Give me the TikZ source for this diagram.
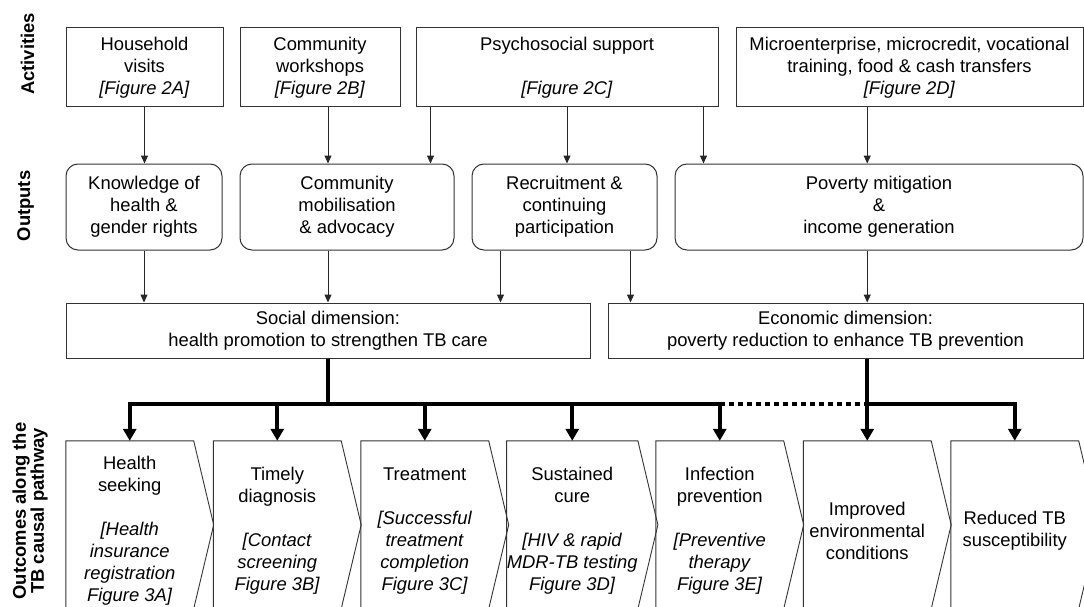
\documentclass[tikz,border=0pt]{standalone}
\usepackage{fontspec}
\setmainfont{Liberation Sans}
\usetikzlibrary{arrows.meta, calc, positioning}

\begin{document}
\begin{tikzpicture}[
    x=1pt, y=-1pt,
    every node/.style={font=\fontsize{18.4}{22}\selectfont, align=center, inner sep=0pt},
    actbox/.style={draw=black!80, line width=1pt, minimum height=79pt},
    outbox/.style={draw=black!80, line width=1pt, rounded corners=12pt, minimum height=86pt},
    dimbox/.style={draw=black!80, line width=1pt, minimum height=55pt},
    outcome/.style={minimum width=127.5pt, minimum height=180pt},
    chevron/.style={draw=black!80, line width=0.9pt},
    rowlabel/.style={font=\bfseries\fontsize{18.4}{18}\selectfont, rotate=90},
    arr/.style={draw=black!85, line width=1pt, -{Triangle[width=7pt,length=8pt]}},
    bigarr/.style={line width=4pt, -{Triangle[width=13pt,length=12pt]}},
    bigdots/.style={line width=4pt, dash pattern=on 5pt off 4pt}
]

    % moldura da figura
    \useasboundingbox (0,0) rectangle (1084,607);
    \clip (0,0) rectangle (1084,607);

    % 1. Rótulos das linhas
    \node[rowlabel] (lblact) at (27.5,54) {Activities};
    \node[rowlabel] (lblout) at (25.5,206) {Outputs};
    \node[rowlabel] (lblres) at (30,511) {Outcomes along the\\TB causal pathway};

    % 2. Atividades
    \node[actbox, minimum width=157pt] (act1) at (144.5,67.5) {Household\\visits\\\textit{[Figure 2A]}};
    \node[actbox, minimum width=160pt] (act2) at (320,67.5) {Community\\workshops\\\textit{[Figure 2B]}};
    \node[actbox, minimum width=302pt] (psych) at (567,67.5) {Psychosocial support\\[22pt]\textit{[Figure 2C]}};
    \node[actbox, minimum width=347pt] (act4) at (909.5,67.5) {Microenterprise, microcredit, vocational\\training, food \& cash transfers\\\textit{[Figure 2D]}};

    % 3. Produtos
    \node[outbox, minimum width=156pt] (out1) at (144,207) {Knowledge of\\health \&\\gender rights};
    \node[outbox, minimum width=214pt] (out2) at (347,207) {Community\\mobilisation\\\& advocacy};
    \node[outbox, minimum width=185pt] (out3) at (564.5,207) {Recruitment \&\\continuing\\participation};
    \node[outbox, minimum width=408pt] (out4) at (879,207) {Poverty mitigation\\\&\\income generation};

    % 4. Dimensões
    \node[dimbox, minimum width=524pt] (social) at (328,330.5) {Social dimension:\\health promotion to strengthen TB care};
    \node[dimbox, minimum width=475pt] (econ) at (845.5,330.5) {Economic dimension:\\poverty reduction to enhance TB prevention};

    % 5. Resultados ao longo do caminho causal
    \node[outcome] (o1) at (129.75,531) {Health\\seeking\\[22pt]\textit{[Health}\\\textit{insurance}\\\textit{registration}\\\textit{Figure 3A]}};
    \node[outcome] (o2) at (277.25,531) {Timely\\diagnosis\\[22pt]\textit{[Contact}\\\textit{screening}\\\textit{Figure 3B]}};
    \node[outcome] (o3) at (424.75,531) {Treatment\\[22pt]\textit{[Successful}\\\textit{treatment}\\\textit{completion}\\\textit{Figure 3C]}};
    \node[outcome] (o4) at (572.25,531) {Sustained\\cure\\[22pt]\textit{[HIV \& rapid}\\\textit{MDR-TB testing}\\\textit{Figure 3D]}};
    \node[outcome] (o5) at (719.75,531) {Infection\\prevention\\[22pt]\textit{[Preventive}\\\textit{therapy}\\\textit{Figure 3E]}};
    \node[outcome] (o6) at (867.25,531) {Improved\\environmental\\conditions};
    \node[outcome] (o7) at (1014.75,531) {Reduced TB\\susceptibility};

    \draw[chevron] (o1.south west) -- (o1.north west) -- (o1.north east) -- ++(20,84) -- ++(-20,84);
    \draw[chevron] (o2.south west) -- (o2.north west) -- (o2.north east) -- ++(20,84) -- ++(-20,84);
    \draw[chevron] (o3.south west) -- (o3.north west) -- (o3.north east) -- ++(20,84) -- ++(-20,84);
    \draw[chevron] (o4.south west) -- (o4.north west) -- (o4.north east) -- ++(20,84) -- ++(-20,84);
    \draw[chevron] (o5.south west) -- (o5.north west) -- (o5.north east) -- ++(20,84) -- ++(-20,84);
    \draw[chevron] (o6.south west) -- (o6.north west) -- (o6.north east) -- ++(20,84) -- ++(-20,84);
    \draw[chevron] (o7.south west) -- (o7.north west) -- (o7.north east) -- ++(20,84) -- ++(-20,84);

    % 6. Setas finas: atividades -> produtos
    \coordinate (p1) at ($(psych.south west)+(15,0)$);
    \coordinate (p3) at ($(psych.south east)+(-15,0)$);
    \draw[arr] (act1.south) -- (act1.south |- out1.north);
    \draw[arr] (act2.south -| social.south) -- (out2.north -| social.south);
    \draw[arr] (p1) -- (p1 |- out2.north);
    \draw[arr] (psych.south) -- (psych.south |- out3.north);
    \draw[arr] (p3) -- (p3 |- out4.north);
    \draw[arr] (act4.south -| o6.north) -- (out4.north -| o6.north);

    % 7. Setas finas: produtos -> dimensões
    \coordinate (r1) at ($(out3.south west)+(29,0)$);
    \coordinate (r2) at ($(out3.south east)+(-27,0)$);
    \draw[arr] (out1.south) -- (out1.south |- social.north);
    \draw[arr] (out2.south -| social.south) -- (social.north);
    \draw[arr] (r1) -- (r1 |- social.north);
    \draw[arr] (r2) -- (r2 |- econ.north);
    \draw[arr] (out4.south -| o6.north) -- (econ.north -| o6.north);

    % 8. Barramento grosso até os resultados
    \path (social.south) ++(0,45) coordinate (sbus);
    \draw[bigarr] (social.south) -- (sbus) -| (o1.north);
    \draw[bigarr] (social.south) -- (sbus) -| (o2.north);
    \draw[bigarr] (social.south) -- (sbus) -| (o3.north);
    \draw[bigarr] (social.south) -- (sbus) -| (o4.north);
    \draw[bigarr] (social.south) -- (sbus) -| (o5.north);
    \draw[bigdots] (sbus -| o5.north) -- (sbus -| o6.north);
    \draw[bigarr] (econ.south -| o6.north) -- (o6.north);
    \draw[bigarr] (econ.south -| o6.north) -- (sbus -| o6.north) -| (o7.north);

\end{tikzpicture}
\end{document}
